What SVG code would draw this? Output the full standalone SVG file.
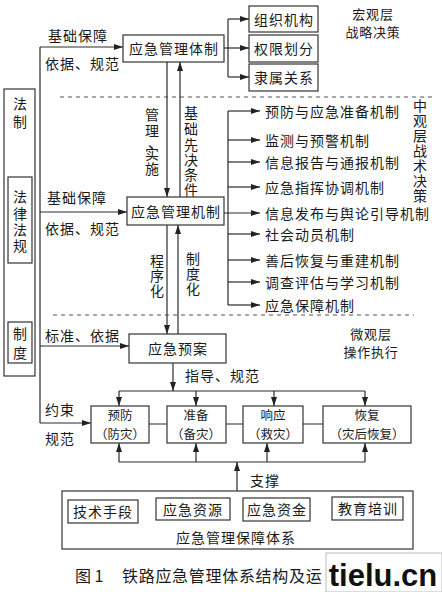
<svg xmlns="http://www.w3.org/2000/svg" width="442" height="592" viewBox="0 0 442 592">
<style>
.t{font-family:"Noto Sans CJK SC","Noto Sans",sans-serif;font-size:14px;fill:#1a1a1a;dominant-baseline:central;letter-spacing:1px}
.m{text-anchor:middle}
.v{font-family:"Noto Sans CJK SC","Noto Sans",sans-serif;font-size:14px;fill:#1a1a1a;dominant-baseline:central;text-anchor:middle}
.s{font-size:12.5px;letter-spacing:0}
.r{font-size:13px;letter-spacing:0.8px}
.b{fill:#fff;stroke:#333;stroke-width:1.2}
.l{fill:none;stroke:#2a2a2a;stroke-width:1.2}
.a{fill:none;stroke:#2a2a2a;stroke-width:1.2;marker-end:url(#ah)}
.d{fill:none;stroke:#555;stroke-width:1;stroke-dasharray:4 4}
</style>
<defs>
<marker id="ah" viewBox="0 0 9 6" refX="9" refY="3" markerWidth="9" markerHeight="6" markerUnits="userSpaceOnUse" orient="auto"><path d="M0,0 L9,3 L0,6 z" fill="#222"/></marker>
</defs>
<rect width="442" height="592" fill="#fff"/>

<g id="connectors">
<path class="d" d="M60,97 H434"/>
<path class="d" d="M53,315 H414"/>
<path class="l" d="M40,47 V423"/>
<path class="a" d="M40,47 H123"/>
<path class="a" d="M40,212 H127"/>
<path class="a" d="M40,346 H129"/>
<path class="a" d="M40,423 H91"/>
<path class="l" d="M228,19 V77"/>
<path class="a" d="M228,19 H249"/>
<path class="a" d="M224,48 H249"/>
<path class="a" d="M228,77 H249"/>
<path class="a" d="M167,62 V197"/>
<path class="a" d="M180,197 V62"/>
<path class="a" d="M167,225 V334"/>
<path class="a" d="M178,334 V225"/>
<path class="l" d="M228,111 V305"/>
<path class="a" d="M228,111 H260"/>
<path class="a" d="M228,140 H260"/>
<path class="a" d="M228,162 H260"/>
<path class="a" d="M228,187 H260"/>
<path class="a" d="M224,213 H260"/>
<path class="a" d="M228,234 H260"/>
<path class="a" d="M228,260 H260"/>
<path class="a" d="M228,282 H260"/>
<path class="a" d="M228,305 H260"/>
<path class="a" d="M173,363 V391"/>
<path class="l" d="M119,391 H365"/>
<path class="a" d="M119,391 V406"/>
<path class="a" d="M196,391 V406"/>
<path class="a" d="M274,391 V406"/>
<path class="a" d="M365,391 V406"/>
<path class="l" d="M149,424 H167 M226,424 H243 M303,424 H323"/>
<path class="l" d="M119,462 H365"/>
<path class="a" d="M119,462 V443"/>
<path class="a" d="M196,462 V443"/>
<path class="a" d="M267,462 V443"/>
<path class="a" d="M365,462 V443"/>
<path class="a" d="M237,491 V462"/>
</g>

<g id="labels">
<text class="t m" x="78" y="35">基础保障</text>
<text class="t" x="45" y="63">依据、规范</text>
<text class="t" x="47" y="197">基础保障</text>
<text class="t" x="45" y="228">依据、规范</text>
<text class="t" x="45" y="335">标准、依据</text>
<text class="t" x="45" y="409">约束</text>
<text class="t" x="45" y="438">规范</text>
<text class="t" x="185" y="375">指导、规范</text>
<text class="t" x="250" y="480">支撑</text>
<text class="v" x="152 152 155 152 152" y="114 130 142 153 168">管理、实施</text>
<text class="v" x="191 191 191 191 191 191" y="112 128 144 159 174 189">基础先决条件</text>
<text class="v" x="157 157 157" y="260 275 290">程序化</text>
<text class="v" x="193 193 193" y="258 273 288">制度化</text>
<text class="t m r" x="373" y="13">宏观层</text>
<text class="t m r" x="373" y="31">战略决策</text>
<text class="v" x="420 420 420 420 420 420 420" y="105 120 135 150 165 180 195">中观层战术决策</text>
<text class="t m r" x="371" y="333">微观层</text>
<text class="t m r" x="371" y="351">操作执行</text>
</g>

<g id="n-fazhi">
<rect class="b" x="4" y="89" width="31" height="287"/>
<text class="v" x="20 20" y="103 121">法制</text>
</g>
<g id="n-falv">
<rect class="b" x="8" y="177" width="24" height="86"/>
<text class="v" x="20 20 20 20" y="196 213 229 245">法律法规</text>
</g>
<g id="n-zhidu">
<rect class="b" x="8" y="322" width="24" height="41"/>
<text class="v" x="20 20" y="333 352">制度</text>
</g>

<g id="n-tizhi">
<rect class="b" x="123" y="35" width="101" height="27"/>
<text class="t m" x="174" y="48">应急管理体制</text>
</g>
<g id="n-zuzhi">
<rect class="b" x="249" y="6" width="69" height="26"/>
<text class="t m" x="284" y="19">组织机构</text>
</g>
<g id="n-quanxian">
<rect class="b" x="249" y="35" width="69" height="27"/>
<text class="t m" x="284" y="48">权限划分</text>
</g>
<g id="n-lishu">
<rect class="b" x="249" y="64" width="69" height="27"/>
<text class="t m" x="284" y="77">隶属关系</text>
</g>

<g id="n-jizhi">
<rect class="b" x="127" y="197" width="97" height="28"/>
<text class="t m" x="176" y="211">应急管理机制</text>
</g>

<g id="n-list">
<text class="t" x="265" y="111">预防与应急准备机制</text>
<text class="t" x="265" y="140">监测与预警机制</text>
<text class="t" x="265" y="162">信息报告与通报机制</text>
<text class="t" x="265" y="187">应急指挥协调机制</text>
<text class="t" x="265" y="213">信息发布与舆论引导机制</text>
<text class="t" x="265" y="234">社会动员机制</text>
<text class="t" x="265" y="260">善后恢复与重建机制</text>
<text class="t" x="265" y="282">调查评估与学习机制</text>
<text class="t" x="265" y="305">应急保障机制</text>
</g>

<g id="n-yuan">
<rect class="b" x="129" y="334" width="97" height="29"/>
<text class="t m" x="178" y="348">应急预案</text>
</g>

<g id="n-yufang">
<rect class="b" x="91" y="406" width="58" height="37"/>
<text class="t m s" x="120" y="414">预防</text>
<text class="t m s" x="120" y="433">（防灾）</text>
</g>
<g id="n-zhunbei">
<rect class="b" x="167" y="406" width="59" height="37"/>
<text class="t m s" x="196" y="414">准备</text>
<text class="t m s" x="196" y="433">（备灾）</text>
</g>
<g id="n-xiangying">
<rect class="b" x="243" y="406" width="60" height="37"/>
<text class="t m s" x="273" y="414">响应</text>
<text class="t m s" x="273" y="433">（救灾）</text>
</g>
<g id="n-huifu">
<rect class="b" x="323" y="406" width="88" height="37"/>
<text class="t m s" x="367" y="414">恢复</text>
<text class="t m s" x="367" y="433">（灾后恢复）</text>
</g>

<g id="n-baozhang">
<rect class="b" x="62" y="491" width="351" height="58"/>
<text class="t m" x="236" y="537">应急管理保障体系</text>
</g>
<g id="n-jishu">
<rect class="b" x="68" y="500" width="70" height="23"/>
<text class="t m" x="103" y="511">技术手段</text>
</g>
<g id="n-ziyuan">
<rect class="b" x="156" y="498" width="74" height="22"/>
<text class="t m" x="193" y="509">应急资源</text>
</g>
<g id="n-zijin">
<rect class="b" x="243" y="498" width="67" height="23"/>
<text class="t m" x="277" y="509">应急资金</text>
</g>
<g id="n-jiaoyu">
<rect class="b" x="332" y="497" width="71" height="23"/>
<text class="t m" x="368" y="508">教育培训</text>
</g>

<g id="caption">
<text class="t" x="75" y="575" style="font-size:16px;letter-spacing:0">图 1</text>
<text class="t" x="122" y="575" style="font-size:16px;letter-spacing:0.7px">铁路应急管理体系结构及运</text>
<rect x="326" y="553" width="116" height="39" fill="#fff" stroke="#bbb" stroke-width="1"/>
<text x="383" y="586" text-anchor="middle" style="font-family:'Liberation Sans',Arial,sans-serif;font-weight:bold;font-size:31px;fill:#111">tielu.cn</text>
</g>
</svg>
